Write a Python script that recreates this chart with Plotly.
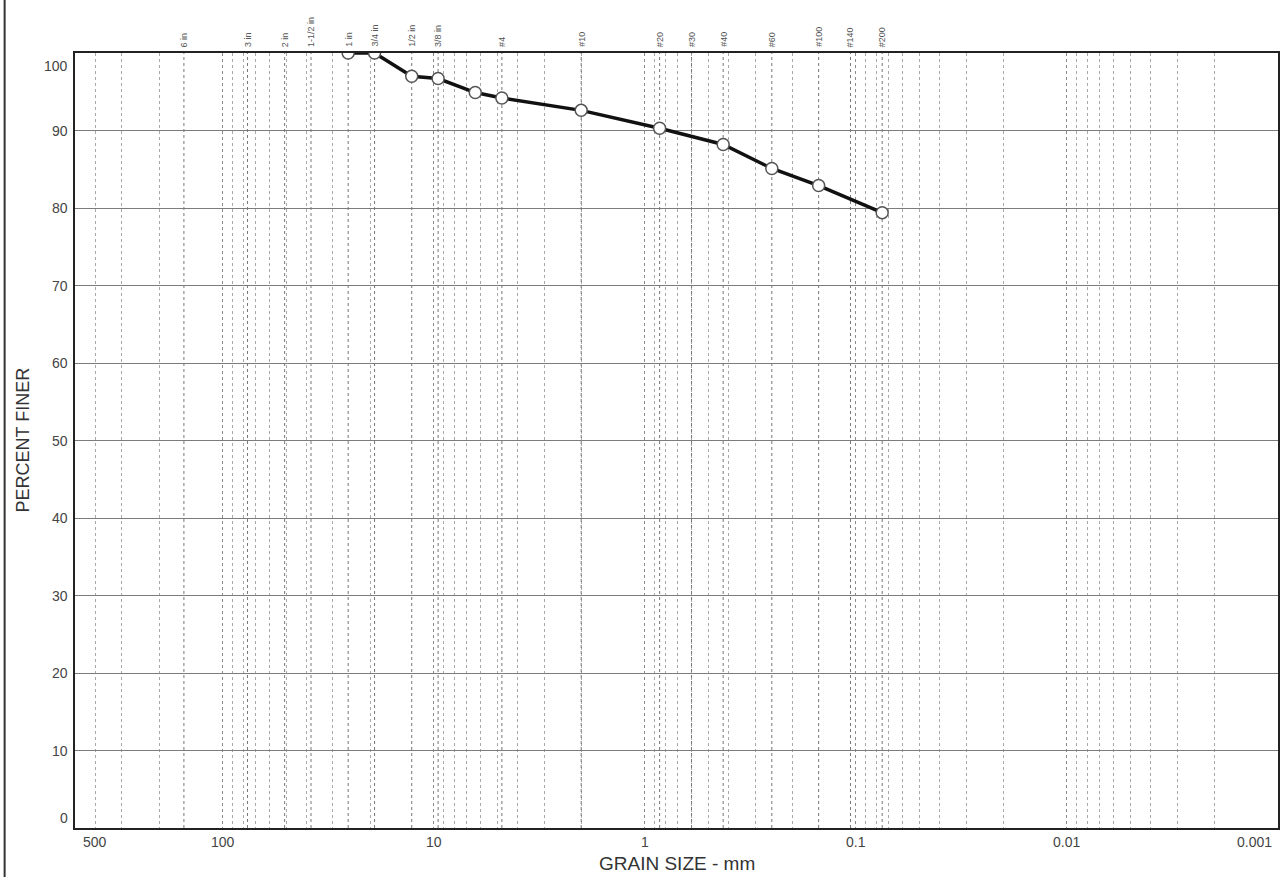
import numpy as np
import plotly.graph_objects as go

# Sieve analysis results: grain size (mm) vs. percent finer
grain_mm = [25.4, 19.05, 12.7, 9.525, 6.35, 4.75, 2.0, 0.85, 0.425, 0.25, 0.15, 0.075]
percent_finer = [100.0, 100.0, 97.0, 96.7, 94.9, 94.2, 92.6, 90.3, 88.2, 85.1, 82.9, 79.4]

# Standard sieve openings shown along the top edge
sieve_labels = ["6 in", "3 in", "2 in", "1-1/2 in", "1 in", "3/4 in", "1/2 in", "3/8 in",
                "#4", "#10", "#20", "#30", "#40", "#60", "#100", "#140", "#200"]
sieve_mm = [152.4, 76.2, 50.8, 38.1, 25.4, 19.05, 12.7, 9.525,
            4.75, 2.0, 0.85, 0.6, 0.425, 0.25, 0.15, 0.106, 0.075]

x_tick_vals = [500, 100, 10, 1, 0.1, 0.01, 0.001]
x_tick_text = ["500", "100", "10", "1", "0.1", "0.01", "0.001"]
y_tick_vals = [0, 10, 20, 30, 40, 50, 60, 70, 80, 90, 100]
y_tick_text = [str(v) for v in y_tick_vals]

X_MAX, X_MIN = 500, 0.001
FONT = "Arial, Liberation Sans, sans-serif"
TXT = "#444444"

fig = go.Figure()

# dotted vertical lines at each sieve opening
sx, sy = [], []
for s in sieve_mm:
    sx += [s, s, None]
    sy += [0, 100, None]
fig.add_trace(go.Scatter(x=sx, y=sy, mode="lines", hoverinfo="skip",
                         line=dict(color="#767676", width=1, dash="dot"),
                         showlegend=False))

# gradation curve
fig.add_trace(go.Scatter(
    x=grain_mm, y=percent_finer, mode="lines+markers",
    line=dict(color="#111111", width=3.5),
    marker=dict(symbol="circle", size=12, color="white",
                line=dict(color="#555555", width=1.5)),
    showlegend=False))

annotations = []
# x tick labels (edge labels kept inside the frame)
for v, t in zip(x_tick_vals, x_tick_text):
    anchor, shift = "center", 0
    if v == X_MAX:
        anchor, shift = "left", 6
    elif v == X_MIN:
        anchor, shift = "right", -4
    annotations.append(dict(x=np.log10(v), y=0, xref="x", yref="paper", text=t,
                            showarrow=False, xanchor=anchor, yanchor="top",
                            xshift=shift, yshift=-4,
                            font=dict(family=FONT, size=14, color=TXT)))
# y tick labels
for v, t in zip(y_tick_vals, y_tick_text):
    ya, shift = "middle", 0
    if v == 100:
        ya, shift = "top", -3
    elif v == 0:
        ya = "bottom"
    annotations.append(dict(x=0, y=v, xref="paper", yref="y", text=t,
                            showarrow=False, xanchor="right", yanchor=ya,
                            xshift=-5, yshift=shift,
                            font=dict(family=FONT, size=14, color=TXT)))
# sieve labels, rotated, above the frame
for s, t in zip(sieve_mm, sieve_labels):
    annotations.append(dict(x=np.log10(s), y=1, xref="x", yref="paper", text=t,
                            showarrow=False, textangle=-90, xanchor="center",
                            yanchor="bottom", yshift=4,
                            font=dict(family=FONT, size=9, color="#555555")))
# axis titles
annotations.append(dict(x=0.5, y=0, xref="paper", yref="paper", text="GRAIN SIZE - mm",
                        showarrow=False, xanchor="center", yanchor="top", yshift=-23,
                        font=dict(family=FONT, size=19, color="#333333")))
annotations.append(dict(x=0, y=0.5, xref="paper", yref="paper", text="PERCENT FINER",
                        showarrow=False, textangle=-90, xanchor="center", yanchor="middle",
                        xshift=-53, font=dict(family=FONT, size=18, color="#333333")))

fig.update_layout(
    width=1283, height=877,
    margin=dict(l=75, r=3, t=53, b=49),
    paper_bgcolor="white", plot_bgcolor="white",
    annotations=annotations,
    shapes=[dict(type="line", xref="paper", yref="paper",
                 x0=-0.0585, x1=-0.0585, y0=-0.07, y1=1.07,
                 line=dict(color="#333333", width=2))],
)

fig.update_xaxes(
    type="log", range=[np.log10(X_MAX), np.log10(X_MIN)],
    tickvals=x_tick_vals, showticklabels=False, ticks="",
    showgrid=True, gridcolor="#8a8a8a", gridwidth=1, griddash="dot",
    minor=dict(showgrid=True, gridcolor="#a8a8a8", gridwidth=1, griddash="dot",
               dtick="D1"),
    showline=True, linecolor="#222222", linewidth=2, mirror=True, zeroline=False,
)
fig.update_yaxes(
    range=[0, 100], tickvals=y_tick_vals, showticklabels=False, ticks="",
    showgrid=True, gridcolor="#7c7c7c", gridwidth=1,
    showline=True, linecolor="#222222", linewidth=2, mirror=True, zeroline=False,
)

fig.write_html("out.html")
